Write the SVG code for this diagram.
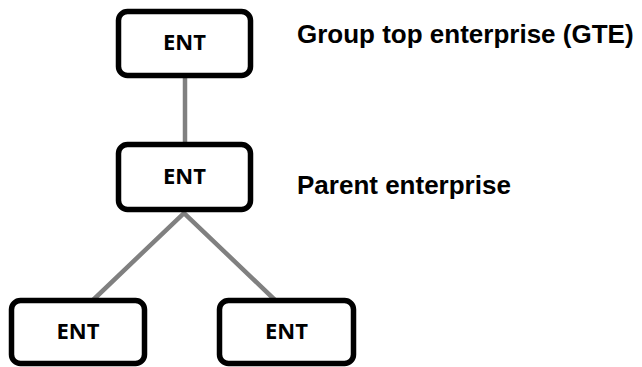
<svg xmlns="http://www.w3.org/2000/svg" width="642" height="367" viewBox="0 0 642 367">
<style>
.box{fill:#fff;stroke:#000;stroke-width:5.5}
.ent{font-family:"Open Sans","Liberation Sans",sans-serif;font-weight:bold;font-size:22px;fill:#000;text-anchor:middle}
.lbl{font-family:"Liberation Sans",Arial,sans-serif;font-weight:bold;font-size:26px;fill:#000}
.con{stroke:#808080;stroke-width:4.5;fill:none}
</style>
<rect width="642" height="367" fill="#fff"/>
<g id="connectors">
<line class="con" x1="185" y1="78" x2="185" y2="143"/>
<polyline class="con" points="92,301 184,213 276,301"/>
</g>
<g id="node-gte">
<rect class="box" x="118.5" y="11.5" width="132" height="64" rx="9"/>
<text class="ent" x="184.5" y="50">ENT</text>
</g>
<g id="node-parent">
<rect class="box" x="118.5" y="144.5" width="132" height="65" rx="9"/>
<text class="ent" x="184.5" y="184">ENT</text>
</g>
<g id="node-child1">
<rect class="box" x="11.5" y="300.5" width="133" height="63" rx="9"/>
<text class="ent" x="78" y="339">ENT</text>
</g>
<g id="node-child2">
<rect class="box" x="219.5" y="300.5" width="134" height="63" rx="9"/>
<text class="ent" x="286.5" y="339">ENT</text>
</g>
<g id="labels">
<text class="lbl" x="297" y="43">Group top enterprise (GTE)</text>
<text class="lbl" x="297" y="194">Parent enterprise</text>
</g>
</svg>
